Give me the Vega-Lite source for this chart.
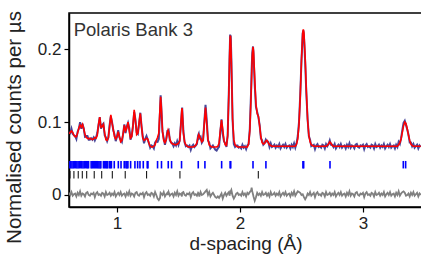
{
"$schema": "https://vega.github.io/schema/vega-lite/v6.json",
"autosize": "none",
"width": 353,
"height": 194,
"padding": {"left": 69, "top": 13, "right": 0, "bottom": 47},
"background": "white",
"config": {"view": {"stroke": "black", "strokeWidth": 1.5}, "font": "Liberation Sans"},
"datasets": {
"prof": [
{"d":0.61,"c":0.084,"o":0.086,"f":0.003},{"d":0.62,"c":0.086,"o":0.085,"f":0.000},{"d":0.63,"c":0.088,"o":0.091,"f":0.004},{"d":0.64,"c":0.086,"o":0.084,"f":-0.001},{"d":0.65,"c":0.082,"o":0.082,"f":0.001},{"d":0.66,"c":0.080,"o":0.081,"f":0.002},{"d":0.67,"c":0.080,"o":0.077,"f":-0.002},{"d":0.68,"c":0.085,"o":0.087,"f":0.003},{"d":0.69,"c":0.092,"o":0.091,"f":0.000},{"d":0.70,"c":0.096,"o":0.100,"f":0.005},
{"d":0.71,"c":0.093,"o":0.091,"f":-0.001},{"d":0.72,"c":0.097,"o":0.098,"f":0.002},{"d":0.73,"c":0.091,"o":0.091,"f":0.001},{"d":0.74,"c":0.083,"o":0.080,"f":-0.002},{"d":0.75,"c":0.079,"o":0.081,"f":0.003},{"d":0.76,"c":0.078,"o":0.081,"f":0.004},{"d":0.77,"c":0.077,"o":0.076,"f":0.000},{"d":0.78,"c":0.078,"o":0.076,"f":-0.001},{"d":0.79,"c":0.077,"o":0.078,"f":0.002},{"d":0.80,"c":0.076,"o":0.076,"f":0.001},
{"d":0.81,"c":0.077,"o":0.079,"f":0.003},{"d":0.82,"c":0.079,"o":0.075,"f":-0.003},{"d":0.83,"c":0.078,"o":0.079,"f":0.002},{"d":0.84,"c":0.082,"o":0.085,"f":0.004},{"d":0.85,"c":0.097,"o":0.096,"f":0.000},{"d":0.86,"c":0.107,"o":0.107,"f":0.001},{"d":0.87,"c":0.093,"o":0.091,"f":-0.001},{"d":0.88,"c":0.094,"o":0.096,"f":0.003},{"d":0.89,"c":0.097,"o":0.098,"f":0.002},{"d":0.90,"c":0.085,"o":0.082,"f":-0.002},
{"d":0.91,"c":0.076,"o":0.079,"f":0.004},{"d":0.92,"c":0.075,"o":0.074,"f":0.000},{"d":0.93,"c":0.079,"o":0.079,"f":0.001},{"d":0.94,"c":0.094,"o":0.096,"f":0.003},{"d":0.95,"c":0.110,"o":0.108,"f":-0.001},{"d":0.96,"c":0.099,"o":0.100,"f":0.002},{"d":0.97,"c":0.090,"o":0.089,"f":0.000},{"d":0.98,"c":0.080,"o":0.083,"f":0.004},{"d":0.99,"c":0.077,"o":0.074,"f":-0.002},{"d":1.00,"c":0.080,"o":0.080,"f":0.001},
{"d":1.01,"c":0.087,"o":0.089,"f":0.003},{"d":1.02,"c":0.080,"o":0.079,"f":0.000},{"d":1.03,"c":0.073,"o":0.076,"f":0.004},{"d":1.04,"c":0.075,"o":0.073,"f":-0.001},{"d":1.05,"c":0.084,"o":0.084,"f":0.001},{"d":1.06,"c":0.096,"o":0.097,"f":0.002},{"d":1.07,"c":0.088,"o":0.085,"f":-0.002},{"d":1.08,"c":0.092,"o":0.094,"f":0.003},{"d":1.09,"c":0.100,"o":0.099,"f":0.000},{"d":1.10,"c":0.088,"o":0.092,"f":0.005},
{"d":1.11,"c":0.078,"o":0.076,"f":-0.001},{"d":1.12,"c":0.080,"o":0.081,"f":0.002},{"d":1.13,"c":0.095,"o":0.095,"f":0.001},{"d":1.14,"c":0.117,"o":0.114,"f":-0.002},{"d":1.15,"c":0.102,"o":0.104,"f":0.003},{"d":1.16,"c":0.083,"o":0.086,"f":0.004},{"d":1.17,"c":0.085,"o":0.084,"f":0.000},{"d":1.18,"c":0.100,"o":0.098,"f":-0.001},{"d":1.19,"c":0.112,"o":0.113,"f":0.002},{"d":1.20,"c":0.094,"o":0.094,"f":0.001},
{"d":1.21,"c":0.078,"o":0.080,"f":0.003},{"d":1.22,"c":0.075,"o":0.071,"f":-0.003},{"d":1.23,"c":0.076,"o":0.077,"f":0.002},{"d":1.24,"c":0.078,"o":0.081,"f":0.004},{"d":1.25,"c":0.077,"o":0.076,"f":0.000},{"d":1.26,"c":0.071,"o":0.071,"f":0.001},{"d":1.27,"c":0.067,"o":0.065,"f":-0.001},{"d":1.28,"c":0.066,"o":0.068,"f":0.003},{"d":1.29,"c":0.066,"o":0.067,"f":0.002},{"d":1.30,"c":0.067,"o":0.064,"f":-0.002},
{"d":1.31,"c":0.069,"o":0.072,"f":0.004},{"d":1.32,"c":0.075,"o":0.074,"f":0.000},{"d":1.33,"c":0.079,"o":0.073,"f":-0.005},{"d":1.34,"c":0.085,"o":0.077,"f":-0.007},{"d":1.35,"c":0.120,"o":0.115,"f":-0.004},{"d":1.355,"c":0.135,"o":0.137,"f":0.003},{"d":1.36,"c":0.122,"o":0.123,"f":0.002},{"d":1.37,"c":0.088,"o":0.087,"f":0.000},{"d":1.38,"c":0.075,"o":0.078,"f":0.004},{"d":1.39,"c":0.072,"o":0.069,"f":-0.002},
{"d":1.40,"c":0.076,"o":0.076,"f":0.001},{"d":1.41,"c":0.086,"o":0.088,"f":0.003},{"d":1.415,"c":0.089,"o":0.088,"f":0.000},{"d":1.42,"c":0.086,"o":0.089,"f":0.004},{"d":1.43,"c":0.077,"o":0.075,"f":-0.001},{"d":1.44,"c":0.072,"o":0.072,"f":0.001},{"d":1.45,"c":0.070,"o":0.071,"f":0.002},{"d":1.46,"c":0.070,"o":0.067,"f":-0.002},{"d":1.47,"c":0.069,"o":0.071,"f":0.003},{"d":1.48,"c":0.069,"o":0.068,"f":0.000},
{"d":1.49,"c":0.070,"o":0.074,"f":0.005},{"d":1.50,"c":0.071,"o":0.069,"f":-0.001},{"d":1.51,"c":0.074,"o":0.075,"f":0.002},{"d":1.52,"c":0.098,"o":0.098,"f":0.001},{"d":1.528,"c":0.119,"o":0.116,"f":-0.002},{"d":1.53,"c":0.118,"o":0.120,"f":0.003},{"d":1.54,"c":0.085,"o":0.088,"f":0.004},{"d":1.55,"c":0.073,"o":0.072,"f":0.000},{"d":1.56,"c":0.069,"o":0.067,"f":-0.001},{"d":1.57,"c":0.067,"o":0.068,"f":0.002},
{"d":1.58,"c":0.066,"o":0.066,"f":0.001},{"d":1.59,"c":0.066,"o":0.068,"f":0.003},{"d":1.60,"c":0.066,"o":0.062,"f":-0.003},{"d":1.61,"c":0.066,"o":0.067,"f":0.002},{"d":1.62,"c":0.066,"o":0.069,"f":0.004},{"d":1.63,"c":0.067,"o":0.066,"f":0.000},{"d":1.64,"c":0.068,"o":0.068,"f":0.001},{"d":1.65,"c":0.072,"o":0.070,"f":-0.001},{"d":1.66,"c":0.080,"o":0.082,"f":0.003},{"d":1.665,"c":0.083,"o":0.084,"f":0.002},
{"d":1.67,"c":0.081,"o":0.078,"f":-0.002},{"d":1.68,"c":0.077,"o":0.080,"f":0.004},{"d":1.69,"c":0.073,"o":0.072,"f":0.000},{"d":1.70,"c":0.075,"o":0.075,"f":0.001},{"d":1.71,"c":0.098,"o":0.100,"f":0.003},{"d":1.72,"c":0.120,"o":0.124,"f":0.005},{"d":1.73,"c":0.097,"o":0.103,"f":0.007},{"d":1.74,"c":0.076,"o":0.075,"f":0.000},{"d":1.75,"c":0.069,"o":0.072,"f":0.004},{"d":1.76,"c":0.067,"o":0.064,"f":-0.002},
{"d":1.77,"c":0.066,"o":0.066,"f":0.001},{"d":1.78,"c":0.066,"o":0.068,"f":0.003},{"d":1.79,"c":0.066,"o":0.065,"f":0.000},{"d":1.80,"c":0.066,"o":0.062,"f":-0.003},{"d":1.81,"c":0.066,"o":0.061,"f":-0.004},{"d":1.82,"c":0.067,"o":0.064,"f":-0.002},{"d":1.83,"c":0.071,"o":0.066,"f":-0.004},{"d":1.84,"c":0.088,"o":0.086,"f":-0.001},{"d":1.85,"c":0.103,"o":0.104,"f":0.002},{"d":1.86,"c":0.090,"o":0.084,"f":-0.005},
{"d":1.87,"c":0.075,"o":0.074,"f":0.000},{"d":1.88,"c":0.069,"o":0.071,"f":0.003},{"d":1.89,"c":0.068,"o":0.066,"f":-0.001},{"d":1.90,"c":0.081,"o":0.082,"f":0.002},{"d":1.91,"c":0.142,"o":0.145,"f":0.004},{"d":1.915,"c":0.187,"o":0.185,"f":-0.001},{"d":1.92,"c":0.217,"o":0.219,"f":0.003},{"d":1.922,"c":0.219,"o":0.219,"f":0.001},{"d":1.925,"c":0.214,"o":0.218,"f":0.005},{"d":1.93,"c":0.182,"o":0.188,"f":0.007},
{"d":1.94,"c":0.105,"o":0.103,"f":-0.001},{"d":1.95,"c":0.076,"o":0.070,"f":-0.005},{"d":1.96,"c":0.069,"o":0.066,"f":-0.002},{"d":1.97,"c":0.067,"o":0.068,"f":0.002},{"d":1.98,"c":0.066,"o":0.068,"f":0.003},{"d":1.99,"c":0.066,"o":0.065,"f":0.000},{"d":2.00,"c":0.066,"o":0.066,"f":0.001},{"d":2.01,"c":0.066,"o":0.064,"f":-0.001},{"d":2.02,"c":0.066,"o":0.069,"f":0.004},{"d":2.03,"c":0.066,"o":0.065,"f":0.000},
{"d":2.04,"c":0.066,"o":0.067,"f":0.002},{"d":2.05,"c":0.066,"o":0.063,"f":-0.002},{"d":2.06,"c":0.066,"o":0.068,"f":0.003},{"d":2.07,"c":0.070,"o":0.070,"f":0.001},{"d":2.08,"c":0.088,"o":0.091,"f":0.004},{"d":2.09,"c":0.135,"o":0.140,"f":0.006},{"d":2.095,"c":0.163,"o":0.172,"f":0.010},{"d":2.10,"c":0.191,"o":0.195,"f":0.005},{"d":2.106,"c":0.2036,"o":0.204,"f":0.001},{"d":2.11,"c":0.198,"o":0.195,"f":-0.002},
{"d":2.12,"c":0.160,"o":0.151,"f":-0.008},{"d":2.13,"c":0.125,"o":0.121,"f":-0.003},{"d":2.14,"c":0.112,"o":0.114,"f":0.003},{"d":2.15,"c":0.108,"o":0.107,"f":0.000},{"d":2.16,"c":0.095,"o":0.096,"f":0.002},{"d":2.17,"c":0.080,"o":0.078,"f":-0.001},{"d":2.18,"c":0.072,"o":0.075,"f":0.004},{"d":2.19,"c":0.070,"o":0.069,"f":0.000},{"d":2.20,"c":0.071,"o":0.071,"f":0.001},{"d":2.21,"c":0.074,"o":0.076,"f":0.003},
{"d":2.22,"c":0.075,"o":0.073,"f":-0.001},{"d":2.23,"c":0.072,"o":0.073,"f":0.002},{"d":2.24,"c":0.069,"o":0.066,"f":-0.002},{"d":2.25,"c":0.068,"o":0.071,"f":0.004},{"d":2.26,"c":0.067,"o":0.066,"f":0.000},{"d":2.27,"c":0.067,"o":0.067,"f":0.001},{"d":2.28,"c":0.067,"o":0.069,"f":0.003},{"d":2.29,"c":0.067,"o":0.065,"f":-0.001},{"d":2.30,"c":0.067,"o":0.068,"f":0.002},{"d":2.31,"c":0.067,"o":0.066,"f":0.000},
{"d":2.32,"c":0.067,"o":0.070,"f":0.004},{"d":2.33,"c":0.067,"o":0.064,"f":-0.002},{"d":2.34,"c":0.067,"o":0.067,"f":0.001},{"d":2.35,"c":0.067,"o":0.069,"f":0.003},{"d":2.36,"c":0.067,"o":0.066,"f":0.000},{"d":2.37,"c":0.067,"o":0.070,"f":0.004},{"d":2.38,"c":0.067,"o":0.065,"f":-0.001},{"d":2.39,"c":0.067,"o":0.067,"f":0.001},{"d":2.40,"c":0.067,"o":0.068,"f":0.002},{"d":2.41,"c":0.067,"o":0.064,"f":-0.002},
{"d":2.42,"c":0.067,"o":0.069,"f":0.003},{"d":2.43,"c":0.067,"o":0.066,"f":0.000},{"d":2.44,"c":0.067,"o":0.071,"f":0.005},{"d":2.45,"c":0.067,"o":0.065,"f":-0.001},{"d":2.46,"c":0.070,"o":0.071,"f":0.002},{"d":2.47,"c":0.077,"o":0.081,"f":0.005},{"d":2.48,"c":0.097,"o":0.100,"f":0.004},{"d":2.49,"c":0.135,"o":0.137,"f":0.003},{"d":2.50,"c":0.185,"o":0.184,"f":0.000},{"d":2.51,"c":0.222,"o":0.222,"f":0.001},
{"d":2.515,"c":0.2275,"o":0.226,"f":-0.001},{"d":2.52,"c":0.223,"o":0.219,"f":-0.003},{"d":2.53,"c":0.190,"o":0.183,"f":-0.006},{"d":2.54,"c":0.142,"o":0.138,"f":-0.003},{"d":2.55,"c":0.103,"o":0.104,"f":0.002},{"d":2.56,"c":0.082,"o":0.081,"f":0.000},{"d":2.57,"c":0.073,"o":0.076,"f":0.004},{"d":2.58,"c":0.069,"o":0.067,"f":-0.001},{"d":2.59,"c":0.068,"o":0.068,"f":0.001},{"d":2.60,"c":0.067,"o":0.069,"f":0.003},
{"d":2.61,"c":0.067,"o":0.063,"f":-0.003},{"d":2.62,"c":0.067,"o":0.068,"f":0.002},{"d":2.63,"c":0.067,"o":0.070,"f":0.004},{"d":2.64,"c":0.067,"o":0.066,"f":0.000},{"d":2.65,"c":0.067,"o":0.067,"f":0.001},{"d":2.66,"c":0.067,"o":0.065,"f":-0.001},{"d":2.67,"c":0.067,"o":0.069,"f":0.003},{"d":2.68,"c":0.067,"o":0.068,"f":0.002},{"d":2.69,"c":0.067,"o":0.064,"f":-0.002},{"d":2.70,"c":0.067,"o":0.070,"f":0.004},
{"d":2.71,"c":0.068,"o":0.067,"f":0.000},{"d":2.72,"c":0.070,"o":0.070,"f":0.001},{"d":2.73,"c":0.073,"o":0.075,"f":0.003},{"d":2.74,"c":0.071,"o":0.069,"f":-0.001},{"d":2.75,"c":0.068,"o":0.069,"f":0.002},{"d":2.76,"c":0.067,"o":0.066,"f":0.000},{"d":2.77,"c":0.067,"o":0.070,"f":0.004},{"d":2.78,"c":0.067,"o":0.064,"f":-0.002},{"d":2.79,"c":0.067,"o":0.067,"f":0.001},{"d":2.80,"c":0.067,"o":0.069,"f":0.003},
{"d":2.81,"c":0.067,"o":0.066,"f":0.000},{"d":2.82,"c":0.067,"o":0.070,"f":0.004},{"d":2.83,"c":0.067,"o":0.065,"f":-0.001},{"d":2.84,"c":0.067,"o":0.067,"f":0.001},{"d":2.85,"c":0.067,"o":0.068,"f":0.002},{"d":2.86,"c":0.067,"o":0.064,"f":-0.002},{"d":2.87,"c":0.067,"o":0.069,"f":0.003},{"d":2.88,"c":0.067,"o":0.066,"f":0.000},{"d":2.89,"c":0.067,"o":0.071,"f":0.005},{"d":2.90,"c":0.067,"o":0.065,"f":-0.001},
{"d":2.91,"c":0.067,"o":0.068,"f":0.002},{"d":2.92,"c":0.067,"o":0.067,"f":0.001},{"d":2.93,"c":0.067,"o":0.064,"f":-0.002},{"d":2.94,"c":0.067,"o":0.069,"f":0.003},{"d":2.95,"c":0.067,"o":0.070,"f":0.004},{"d":2.96,"c":0.067,"o":0.066,"f":0.000},{"d":2.97,"c":0.067,"o":0.065,"f":-0.001},{"d":2.98,"c":0.067,"o":0.068,"f":0.002},{"d":2.99,"c":0.067,"o":0.067,"f":0.001},{"d":3.00,"c":0.067,"o":0.069,"f":0.003},
{"d":3.01,"c":0.067,"o":0.063,"f":-0.003},{"d":3.02,"c":0.067,"o":0.068,"f":0.002},{"d":3.03,"c":0.067,"o":0.070,"f":0.004},{"d":3.04,"c":0.067,"o":0.066,"f":0.000},{"d":3.05,"c":0.067,"o":0.067,"f":0.001},{"d":3.06,"c":0.067,"o":0.065,"f":-0.001},{"d":3.07,"c":0.067,"o":0.069,"f":0.003},{"d":3.08,"c":0.067,"o":0.068,"f":0.002},{"d":3.09,"c":0.067,"o":0.064,"f":-0.002},{"d":3.10,"c":0.067,"o":0.070,"f":0.004},
{"d":3.11,"c":0.067,"o":0.066,"f":0.000},{"d":3.12,"c":0.067,"o":0.067,"f":0.001},{"d":3.13,"c":0.067,"o":0.069,"f":0.003},{"d":3.14,"c":0.067,"o":0.065,"f":-0.001},{"d":3.15,"c":0.067,"o":0.068,"f":0.002},{"d":3.16,"c":0.067,"o":0.066,"f":0.000},{"d":3.17,"c":0.067,"o":0.070,"f":0.004},{"d":3.18,"c":0.067,"o":0.064,"f":-0.002},{"d":3.19,"c":0.067,"o":0.067,"f":0.001},{"d":3.20,"c":0.067,"o":0.069,"f":0.003},
{"d":3.21,"c":0.067,"o":0.066,"f":0.000},{"d":3.22,"c":0.067,"o":0.070,"f":0.004},{"d":3.23,"c":0.067,"o":0.065,"f":-0.001},{"d":3.24,"c":0.067,"o":0.067,"f":0.001},{"d":3.25,"c":0.067,"o":0.068,"f":0.002},{"d":3.26,"c":0.067,"o":0.064,"f":-0.002},{"d":3.27,"c":0.067,"o":0.069,"f":0.003},{"d":3.28,"c":0.067,"o":0.066,"f":0.000},{"d":3.29,"c":0.069,"o":0.073,"f":0.005},{"d":3.30,"c":0.072,"o":0.070,"f":-0.001},
{"d":3.31,"c":0.077,"o":0.078,"f":0.002},{"d":3.32,"c":0.086,"o":0.089,"f":0.004},{"d":3.33,"c":0.095,"o":0.099,"f":0.005},{"d":3.34,"c":0.100,"o":0.102,"f":0.003},{"d":3.35,"c":0.098,"o":0.096,"f":-0.001},{"d":3.36,"c":0.091,"o":0.090,"f":0.000},{"d":3.37,"c":0.082,"o":0.083,"f":0.002},{"d":3.38,"c":0.075,"o":0.072,"f":-0.002},{"d":3.39,"c":0.070,"o":0.072,"f":0.003},{"d":3.40,"c":0.068,"o":0.067,"f":0.000},
{"d":3.41,"c":0.067,"o":0.070,"f":0.004},{"d":3.42,"c":0.067,"o":0.065,"f":-0.001},{"d":3.43,"c":0.067,"o":0.067,"f":0.001},{"d":3.44,"c":0.067,"o":0.069,"f":0.003},{"d":3.45,"c":0.067,"o":0.064,"f":-0.002},{"d":3.46,"c":0.067,"o":0.068,"f":0.002},{"d":3.47,"c":0.067,"o":0.066,"f":0.000}
],
"tb": [
{"d":0.614},{"d":0.624},{"d":0.634},{"d":0.644},{"d":0.654},{"d":0.664},{"d":0.674},{"d":0.684},{"d":0.694},{"d":0.704},{"d":0.714},{"d":0.724},{"d":0.734},{"d":0.744},{"d":0.754},{"d":0.762},{"d":0.769},
{"d":0.790},{"d":0.799},{"d":0.808},{"d":0.817},{"d":0.826},{"d":0.835},{"d":0.844},{"d":0.853},{"d":0.862},{"d":0.869},
{"d":0.890},{"d":0.899},{"d":0.908},{"d":0.917},{"d":0.924},
{"d":0.939},{"d":0.947},{"d":0.955},
{"d":0.978},{"d":1.011},{"d":1.033},{"d":1.059},{"d":1.073},{"d":1.081},{"d":1.089},{"d":1.111},{"d":1.146},{"d":1.168},{"d":1.187},{"d":1.214},{"d":1.246},{"d":1.252},{"d":1.330},{"d":1.362},{"d":1.417},{"d":1.444},{"d":1.525},{"d":1.661},{"d":1.715},{"d":1.851},{"d":1.920},{"d":1.925},{"d":2.106},{"d":2.211},{"d":2.512},{"d":2.518},{"d":2.732},{"d":3.328},{"d":3.347}
],
"tk": [
{"d":0.618},{"d":0.650},{"d":0.685},{"d":0.718},{"d":0.754},{"d":0.815},{"d":0.876},{"d":0.962},{"d":1.067},{"d":1.241},{"d":1.512},{"d":2.149}
],
"lbl": [{"t": "Polaris Bank 3"}]
},
"layer": [
{"data": {"name": "prof"}, "mark": {"type": "line", "color": "#34348f", "strokeWidth": 2, "opacity": 0.9, "clip": true},
 "encoding": {
  "x": {"field": "d", "type": "quantitative", "scale": {"domain": [0.61, 3.48], "nice": false, "zero": false},
        "axis": {"values": [1, 2, 3], "format": "~g", "title": "d-spacing (Å)", "titleFontSize": 19, "titleFontWeight": "normal", "titleColor": "#222", "titlePadding": 3, "labelFontSize": 17, "labelColor": "#222", "labelPadding": 3, "tickSize": 5, "tickColor": "black", "domainColor": "black", "domainWidth": 1.5, "tickWidth": 1.2, "grid": false}},
  "y": {"field": "o", "type": "quantitative", "scale": {"domain": [-0.0165, 0.25], "nice": false, "zero": false},
        "axis": {"values": [0, 0.1, 0.2], "format": "~g", "title": "Normalised counts per µs", "titleFontSize": 20.5, "titleFontWeight": "normal", "titleColor": "#222", "titleX": -55, "titleY": 114, "titleAngle": -90, "titleAlign": "center", "titleBaseline": "middle", "labelFontSize": 17, "labelColor": "#222", "labelPadding": 3, "tickSize": 5, "tickColor": "black", "domainColor": "black", "domainWidth": 1.5, "tickWidth": 1.2, "grid": false}}
 }},
{"data": {"name": "prof"}, "mark": {"type": "line", "color": "#ff0000", "strokeWidth": 1.6, "clip": true},
 "encoding": {"x": {"field": "d", "type": "quantitative"}, "y": {"field": "c", "type": "quantitative"}}},
{"data": {"name": "prof"}, "mark": {"type": "line", "color": "#808080", "strokeWidth": 1.8, "clip": true},
 "encoding": {"x": {"field": "d", "type": "quantitative"}, "y": {"field": "f", "type": "quantitative"}}},
{"data": {"name": "tb"}, "mark": {"type": "tick", "orient": "vertical", "color": "#0000ff", "size": 7.5, "thickness": 1.6, "opacity": 1, "clip": true},
 "encoding": {"x": {"field": "d", "type": "quantitative"}, "y": {"datum": 0.0416, "type": "quantitative"}}},
{"data": {"name": "tk"}, "mark": {"type": "tick", "orient": "vertical", "color": "black", "size": 7.5, "thickness": 1, "opacity": 1, "clip": true},
 "encoding": {"x": {"field": "d", "type": "quantitative"}, "y": {"datum": 0.0279, "type": "quantitative"}}},
{"data": {"name": "lbl"}, "mark": {"type": "text", "align": "left", "baseline": "alphabetic", "fontSize": 18.5, "color": "#333"},
 "encoding": {"x": {"datum": 0.648, "type": "quantitative"}, "y": {"datum": 0.2183, "type": "quantitative"}, "text": {"field": "t", "type": "nominal"}}}
]
}
